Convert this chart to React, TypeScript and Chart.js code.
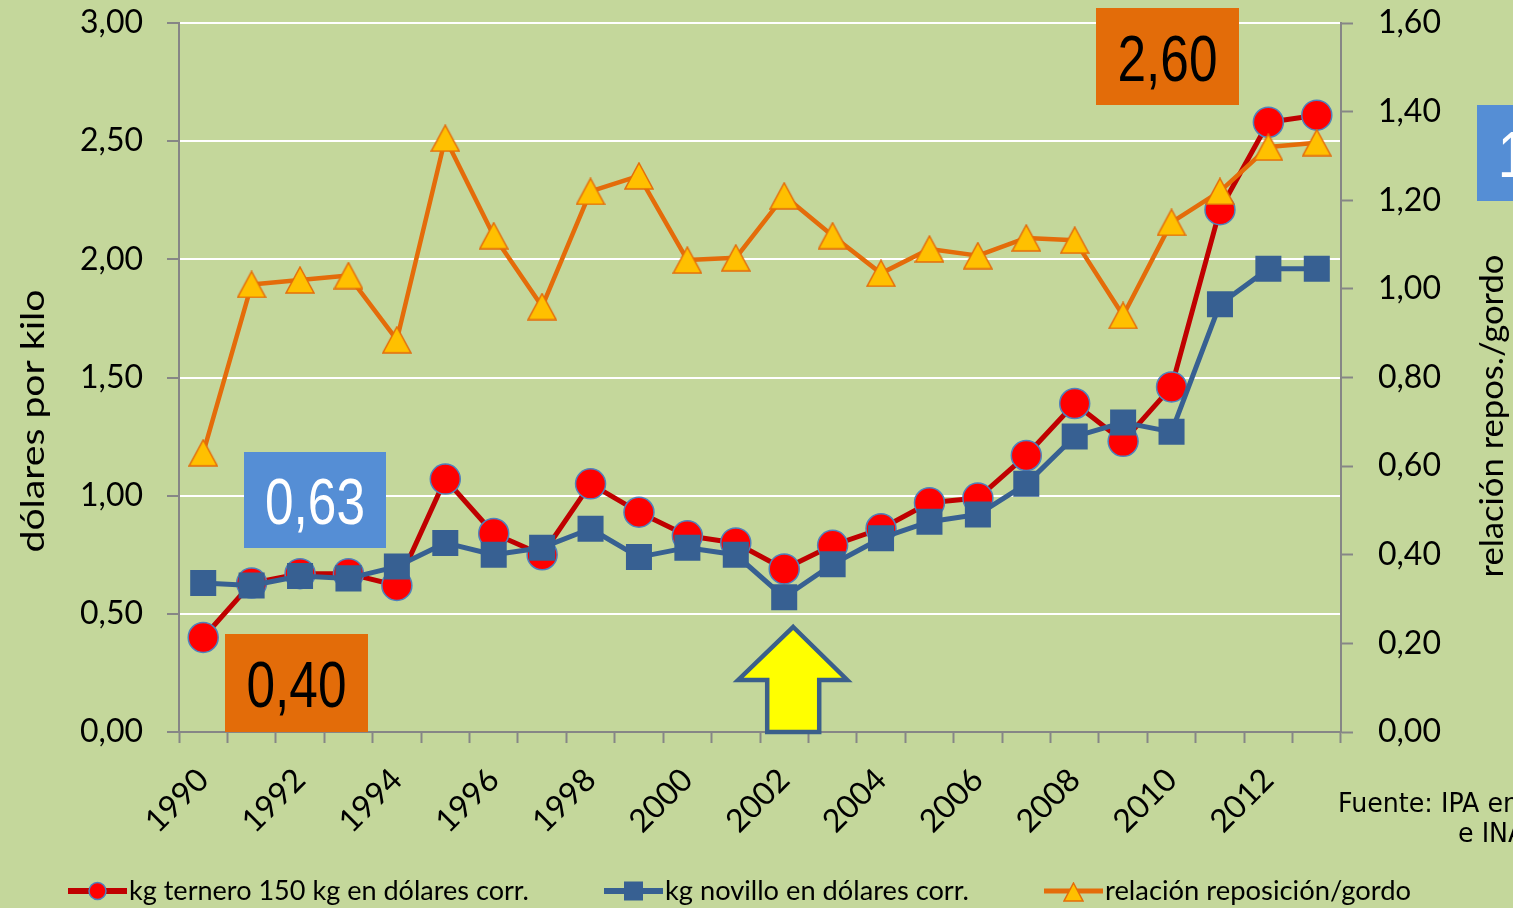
import React, { useEffect, useRef } from 'react';
import { Chart, registerables } from 'chart.js';

Chart.register(...registerables);

const years = ['1990', '1991', '1992', '1993', '1994', '1995', '1996', '1997', '1998', '1999', '2000', '2001', '2002', '2003', '2004', '2005', '2006', '2007', '2008', '2009', '2010', '2011', '2012', '2013'];
const ternero = [0.40, 0.63, 0.67, 0.67, 0.62, 1.07, 0.84, 0.75, 1.05, 0.93, 0.83, 0.80, 0.69, 0.79, 0.86, 0.97, 0.99, 1.17, 1.39, 1.23, 1.46, 2.21, 2.58, 2.61];
const novillo = [0.63, 0.62, 0.66, 0.65, 0.70, 0.80, 0.75, 0.78, 0.86, 0.74, 0.78, 0.75, 0.57, 0.71, 0.82, 0.89, 0.92, 1.05, 1.25, 1.31, 1.27, 1.81, 1.96, 1.96];
const relacion = [0.63, 1.01, 1.02, 1.03, 0.885, 1.34, 1.12, 0.96, 1.22, 1.255, 1.065, 1.07, 1.21, 1.12, 1.035, 1.09, 1.075, 1.115, 1.11, 0.94, 1.15, 1.22, 1.32, 1.33];
const seriesNames = ['kg ternero 150 kg en dólares corr.', 'kg novillo en dólares corr.', 'relación reposición/gordo'];
const leftTitle = 'dólares por kilo';
const rightTitle = 'relación repos./gordo';
const boxLabels = ['2,60', '0,63', '0,40', '1,33'];
const sourceLines = ['Fuente: IPA en base a', 'e INAC'];

const BG = '#C4D79B';
const RED_LINE = '#C00000';
const RED_FILL = '#FF0000';
const RED_EDGE = '#4F81BD';
const BLUE = '#376092';
const ORANGE = '#E46C0A';
const YELLOW_TRI = '#FFC000';
const AXIS = '#868686';
const BOX_ORANGE = '#E36C09';
const BOX_BLUE = '#558ED5';

function makeTriangle(w: number, h: number, lw: number) {
  const c = document.createElement('canvas');
  c.width = w + 2;
  c.height = h + 2;
  const g = c.getContext('2d')!;
  g.beginPath();
  g.moveTo(c.width / 2, 1);
  g.lineTo(c.width - 1, c.height - 1);
  g.lineTo(1, c.height - 1);
  g.closePath();
  g.fillStyle = YELLOW_TRI;
  g.fill();
  g.lineWidth = lw;
  g.strokeStyle = ORANGE;
  g.lineJoin = 'miter';
  g.stroke();
  return c;
}

function fitText(ctx: CanvasRenderingContext2D, text: string, x: number, y: number, font: string, width: number, align: string = 'left', color: string = '#000') {
  ctx.save();
  ctx.font = font;
  ctx.fillStyle = color;
  ctx.textBaseline = 'alphabetic';
  ctx.textAlign = 'left';
  const w = ctx.measureText(text).width;
  const sx = width / w;
  ctx.translate(x, y);
  ctx.scale(sx, 1);
  let ox = 0;
  if (align === 'center') ox = -w / 2;
  else if (align === 'right') ox = -w;
  ctx.fillText(text, ox, 0);
  ctx.restore();
}

const fmt = (v: number) => Number(v).toFixed(2).replace('.', ',');

export default function App() {
  const ref = useRef<HTMLCanvasElement | null>(null);

  useEffect(() => {
    document.body.style.margin = '0';
    document.body.style.background = BG;
    const canvas = ref.current!;
    const tri = makeTriangle(28, 26, 1.5);
    const triSmall = makeTriangle(19, 18, 1.5);

    const bgPlugin = {
      id: 'bg',
      beforeDraw(chart: any) {
        const c = chart.ctx;
        c.save();
        c.fillStyle = BG;
        c.fillRect(0, 0, chart.width, chart.height);
        c.restore();
      },
    };

    const decor = {
      id: 'decor',
      afterDraw(chart: any) {
        const c: CanvasRenderingContext2D = chart.ctx;
        const xs = chart.scales.x;
        c.save();
        // axis titles
        c.save();
        c.translate(33, 421);
        c.rotate(-Math.PI / 2);
        fitText(c, leftTitle, 0, 11, '32px Lato', 263, 'center');
        c.restore();
        c.save();
        c.translate(1492, 416);
        c.rotate(-Math.PI / 2);
        fitText(c, rightTitle, 0, 11, '32px Lato', 323, 'center');
        c.restore();

        // boxes
        const boxes = [
          { x: 1096, y: 8, w: 143, h: 97, fill: BOX_ORANGE, color: '#000', text: boxLabels[0] },
          { x: 244, y: 452, w: 142, h: 96, fill: BOX_BLUE, color: '#FFF', text: boxLabels[1] },
          { x: 225, y: 634, w: 143, h: 98, fill: BOX_ORANGE, color: '#000', text: boxLabels[2] },
          { x: 1477, y: 105, w: 142, h: 96, fill: BOX_BLUE, color: '#FFF', text: boxLabels[3] },
        ];
        for (const b of boxes) {
          c.fillStyle = b.fill;
          c.fillRect(b.x, b.y, b.w, b.h);
          fitText(c, b.text, b.x + b.w / 2, b.y + b.h / 2 + 24, '64px "Liberation Sans"', 100, 'center', b.color);
        }

        // arrow
        const ax = xs.getPixelForValue(12) + 9;
        const base = chart.chartArea.bottom;
        c.beginPath();
        c.moveTo(ax, 627);
        c.lineTo(ax + 54, 680);
        c.lineTo(ax + 26, 680);
        c.lineTo(ax + 26, base);
        c.lineTo(ax - 26, base);
        c.lineTo(ax - 26, 680);
        c.lineTo(ax - 55, 680);
        c.closePath();
        c.fillStyle = '#FFFF00';
        c.fill();
        c.lineWidth = 4.5;
        c.strokeStyle = '#3A5F8B';
        c.lineJoin = 'miter';
        c.stroke();

        // source
        c.save();
        c.font = '26px "DejaVu Sans"';
        const wF = c.measureText('Fuente: IPA e').width;
        const sx = 165 / wF;
        c.fillStyle = '#000';
        c.save();
        c.translate(1338, 812);
        c.scale(sx, 1);
        c.fillText(sourceLines[0], 0, 0);
        c.restore();
        c.save();
        c.translate(1458, 842);
        c.scale(sx, 1);
        c.fillText(sourceLines[1], 0, 0);
        c.restore();
        c.restore();

        // legend
        const ly = 891;
        const items = [
          { x0: 68, x1: 127, tx: 129, tw: 400 },
          { x0: 604, x1: 663, tx: 665, tw: 304 },
          { x0: 1044, x1: 1103, tx: 1105, tw: 306 },
        ];
        items.forEach((it, i) => {
          const mx = (it.x0 + it.x1) / 2;
          c.beginPath();
          c.moveTo(it.x0, ly);
          c.lineTo(it.x1, ly);
          c.lineWidth = i === 2 ? 5 : 6;
          c.strokeStyle = i === 0 ? RED_LINE : i === 1 ? BLUE : ORANGE;
          c.stroke();
          if (i === 0) {
            c.beginPath();
            c.arc(mx, ly, 8.5, 0, Math.PI * 2);
            c.fillStyle = RED_FILL;
            c.fill();
            c.lineWidth = 1.5;
            c.strokeStyle = RED_EDGE;
            c.stroke();
          } else if (i === 1) {
            c.fillStyle = BLUE;
            c.fillRect(mx - 9.5, ly - 9.5, 19, 19);
          } else {
            c.drawImage(triSmall, mx - triSmall.width / 2, ly - triSmall.height / 2 + 1);
          }
          fitText(c, seriesNames[i], it.tx, 900, '26px Lato', it.tw, 'left');
        });
        c.restore();
      },
    };

    const chart = new Chart(canvas, {
      type: 'line',
      data: {
        labels: years,
        datasets: [
          {
            label: seriesNames[0],
            data: ternero,
            yAxisID: 'y',
            borderColor: RED_LINE,
            borderWidth: 5,
            borderJoinStyle: 'round',
            pointStyle: 'circle',
            pointRadius: 15,
            pointBackgroundColor: RED_FILL,
            pointBorderColor: RED_EDGE,
            pointBorderWidth: 1.5,
            order: 3,
          },
          {
            label: seriesNames[1],
            data: novillo,
            yAxisID: 'y',
            borderColor: BLUE,
            borderWidth: 5,
            borderJoinStyle: 'round',
            pointStyle: 'rect',
            pointRadius: 18.4,
            pointBackgroundColor: BLUE,
            pointBorderColor: BLUE,
            pointBorderWidth: 0,
            order: 2,
          },
          {
            label: seriesNames[2],
            data: relacion,
            yAxisID: 'y1',
            borderColor: ORANGE,
            borderWidth: 4.5,
            borderJoinStyle: 'round',
            pointStyle: tri as any,
            pointRadius: 14,
            order: 1,
          },
        ] as any,
      },
      options: {
        responsive: false,
        animation: false,
        events: [],
        layout: { padding: { top: 23, left: 0, right: 0, bottom: 0 } },
        plugins: { legend: { display: false }, tooltip: { enabled: false } },
        scales: {
          x: {
            type: 'category',
            offset: true,
            grid: { offset: true, drawOnChartArea: false, drawTicks: true, tickLength: 11, tickColor: AXIS, tickWidth: 2 },
            border: { color: AXIS, width: 2 },
            ticks: {
              autoSkip: false,
              maxRotation: 45,
              minRotation: 45,
              padding: 18,
              color: '#000',
              font: { family: 'Lato', size: 32 },
              callback: (_v: any, i: number) => (i % 2 === 0 ? years[i] : ''),
            },
            afterFit: (s: any) => { s.height = 176; s.paddingLeft = 0; s.paddingRight = 0; },
          },
          y: {
            position: 'left',
            min: 0,
            max: 3,
            ticks: { stepSize: 0.5, padding: 24, color: '#000', font: { family: 'Lato', size: 32 }, callback: (v: any) => fmt(v) },
            grid: {
              color: (ctx: any) => (ctx.tick && ctx.tick.value === 0 ? 'rgba(0,0,0,0)' : '#FFFFFF'),
              lineWidth: 2,
              tickColor: AXIS,
              tickLength: 12,
              tickWidth: 2,
            },
            border: { color: AXIS, width: 2 },
            afterFit: (s: any) => { s.width = 179; s.paddingTop = 0; s.paddingBottom = 0; },
          },
          y1: {
            position: 'right',
            min: 0,
            max: 1.6,
            ticks: { stepSize: 0.2, padding: 25, color: '#000', font: { family: 'Lato', size: 32 }, callback: (v: any) => fmt(v) },
            grid: { drawOnChartArea: false, tickColor: AXIS, tickLength: 12, tickWidth: 2 },
            border: { color: AXIS, width: 2 },
            afterFit: (s: any) => { s.width = 172; s.paddingTop = 0; s.paddingBottom = 0; },
          },
        },
      } as any,
      plugins: [bgPlugin, decor],
    });
    return () => chart.destroy();
  }, []);

  return (
    <div style={{ width: 1513, height: 908, background: BG }}>
      <canvas ref={ref} width={1513} height={908} style={{ display: 'block' }} />
    </div>
  );
}
